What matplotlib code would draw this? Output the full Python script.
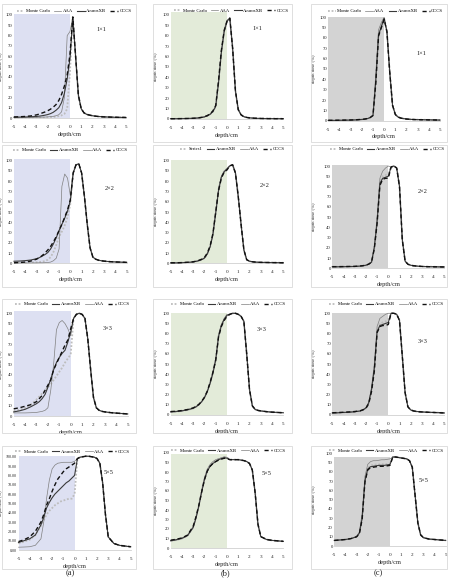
import matplotlib
matplotlib.use('Agg')
import matplotlib.pyplot as plt
from matplotlib.lines import Line2D
from matplotlib.patches import Rectangle
from matplotlib.ticker import FormatStrFormatter

W, H = 451, 578
plt.rcParams['font.family'] = ['Liberation Serif', 'DejaVu Serif']
plt.rcParams['axes.unicode_minus'] = False

# ---------------- data ----------------
XL = [-5, -4.5, -4, -3.5, -3, -2.75, -2.5, -2.25, -2, -1.75, -1.5, -1.25, -1, -0.75, -0.5, -0.25, 0]
XR = [0.25, 0.5, 0.75, 1, 1.25, 1.5, 1.75, 2, 2.25, 2.5, 2.75, 3, 3.5, 4, 4.5, 5]
x_ticks = [-5, -4, -3, -2, -1, 0, 1, 2, 3, 4, 5]
y_ticks = [0, 10, 20, 30, 40, 50, 60, 70, 80, 90, 100]
field_labels = ['1×1', '2×2', '3×3', '5×5']
panel_captions = ['(a)', '(b)', '(c)']

# row 1 : 1x1
a1_mc_l = [0.2, 0.2, 0.3, 0.3, 0.4, 0.4, 0.5, 0.6, 0.7, 0.8, 1.0, 1.3, 1.8, 2.6, 4, 9, 45]
a1_aaa_l = [0.3, 0.3, 0.4, 0.5, 0.6, 0.7, 0.8, 0.9, 1.1, 1.3, 1.6, 2.2, 3.2, 6, 20, 80, 84]
a1_axb_l = [0.8, 0.9, 1.0, 1.2, 1.5, 1.8, 2.2, 2.7, 3.3, 4.2, 5.5, 7.5, 10, 15, 24, 38, 58]
a1_cccs_l = [1.0, 1.2, 1.5, 2.0, 3.0, 3.8, 4.8, 5.8, 7, 8.5, 10.5, 13, 17, 23, 31, 42, 62]
a1_right = [98, 60, 22, 9, 5, 3.5, 2.8, 2.2, 1.8, 1.5, 1.3, 1.1, 0.9, 0.7, 0.6, 0.5]

b1_mc_l = [0.2, 0.2, 0.3, 0.4, 0.6, 0.8, 1.0, 1.4, 2.0, 3.0, 4.5, 7, 12, 35, 65, 85, 94]
b1_aaa_l = [0.2, 0.2, 0.3, 0.4, 0.5, 0.7, 0.9, 1.3, 1.9, 2.8, 4.3, 6.8, 12, 36, 66, 86, 95]
b1_axb_l = [0.3, 0.3, 0.4, 0.5, 0.7, 0.9, 1.1, 1.5, 2.1, 3.1, 4.6, 7.2, 12.5, 35, 64, 84, 94]
b1_cccs_l = [0.3, 0.3, 0.4, 0.5, 0.7, 0.9, 1.2, 1.6, 2.3, 3.3, 5.0, 7.8, 13, 37, 66, 85, 94]
b1_right = [97, 68, 27, 9, 4, 2.2, 1.5, 1.1, 0.9, 0.7, 0.6, 0.5, 0.4, 0.35, 0.3, 0.3]

c1_mc_l = [0.3, 0.3, 0.4, 0.5, 0.6, 0.7, 0.8, 1.0, 1.2, 1.5, 2.0, 3.0, 5, 38, 84, 92, 99]
c1_aaa_l = [0.3, 0.3, 0.4, 0.5, 0.6, 0.7, 0.8, 1.0, 1.2, 1.5, 2.0, 3.0, 5.5, 45, 88, 95, 100]
c1_axb_l = [0.3, 0.3, 0.4, 0.5, 0.6, 0.7, 0.8, 1.0, 1.2, 1.5, 2.0, 3.0, 5, 38, 83, 91, 99]
c1_cccs_l = [0.4, 0.4, 0.5, 0.6, 0.7, 0.8, 0.9, 1.1, 1.3, 1.6, 2.1, 3.1, 5, 36, 82, 90, 98]
c1_right = [86, 47, 15, 6, 3.5, 2.5, 2, 1.6, 1.4, 1.2, 1.1, 1.0, 0.9, 0.8, 0.7, 0.6]

# row 2 : 2x2
a2_mc_l = [0.5, 0.5, 0.6, 0.8, 1.0, 1.2, 1.5, 2.2, 3.5, 6, 11, 18, 26, 31, 37, 45, 58]
a2_aaa_l = [0.3, 0.3, 0.3, 0.4, 0.4, 0.5, 0.5, 0.6, 0.8, 1.2, 2.5, 5, 14, 75, 87, 83, 66]
a2_axb_l = [2, 2.2, 2.6, 3.2, 4.5, 5.5, 7, 8.5, 10.5, 14, 19, 25, 32, 38, 44, 51, 61]
a2_cccs_l = [0.5, 0.8, 1.2, 2.2, 4, 5.5, 7.5, 10, 13, 16.5, 21, 26, 32, 38, 45, 52, 62]
a2_right = [88, 96, 97, 88, 65, 38, 15, 6, 4, 3, 2.5, 2.1, 1.6, 1.3, 1.1, 0.9]

b2_mc_l = [0.3, 0.3, 0.5, 0.8, 1.2, 1.8, 2.5, 3.5, 5, 9, 16, 28, 50, 72, 84, 90, 92]
b2_aaa_l = [0.3, 0.3, 0.5, 0.8, 1.2, 1.7, 2.4, 3.4, 5, 9, 16, 29, 51, 73, 85, 90, 92]
b2_axb_l = [0.4, 0.4, 0.6, 0.9, 1.3, 1.9, 2.6, 3.6, 5.2, 9.2, 16, 28, 49, 71, 84, 89, 92]
b2_cccs_l = [0.5, 0.5, 0.7, 1.0, 1.5, 2.1, 2.9, 4.0, 5.8, 10, 17, 29, 50, 71, 83, 89, 91]
b2_right = [95, 96, 88, 65, 38, 13, 3.5, 2, 1.5, 1.2, 1, 0.9, 0.8, 0.7, 0.6, 0.5]

c2_mc_l = [1.5, 1.5, 1.6, 1.7, 1.8, 2.0, 2.2, 2.5, 3.0, 4.0, 5.5, 19, 44, 84, 90, 91, 93]
c2_aaa_l = [1.4, 1.4, 1.5, 1.6, 1.7, 1.9, 2.1, 2.4, 2.9, 3.9, 6, 22, 50, 88, 95, 98, 100]
c2_axb_l = [1.5, 1.5, 1.6, 1.7, 1.8, 2.0, 2.2, 2.5, 3.0, 4.0, 6, 20, 45, 83, 88, 89, 90]
c2_cccs_l = [1.6, 1.6, 1.7, 1.8, 1.9, 2.1, 2.3, 2.6, 3.1, 4.1, 6, 19, 44, 81, 87, 88, 88]
c2_right = [99, 100, 98, 80, 28, 7, 4, 3, 2.5, 2.2, 2, 1.8, 1.6, 1.5, 1.4, 1.3]

# row 3 : 3x3
a3_mc_l = [5, 6, 8, 11, 16, 19, 22, 25, 28, 31, 35, 39, 43, 47, 52, 56, 60]
a3_aaa_l = [3, 3, 3, 3.2, 3.5, 4, 4.5, 5.5, 8, 25, 50, 84, 91, 93, 90, 85, 78]
a3_axb_l = [4, 5, 6.5, 9, 12, 14, 17, 21, 28, 36, 45, 52, 57, 61, 64, 72, 82]
a3_cccs_l = [7, 8, 9.5, 11, 14, 17, 20, 25, 30, 35, 45, 51, 57, 63, 69, 74, 85]
a3_right = [95, 99, 100, 99, 95, 75, 45, 18, 8, 5.5, 4.5, 4, 3.3, 2.8, 2.4, 2]

b3_mc_l = [3, 3.3, 4, 5, 6.5, 8, 10, 13, 17, 23, 32, 42, 55, 78, 88, 94, 98]
b3_aaa_l = [2.8, 3.1, 3.8, 4.8, 6.3, 7.8, 9.8, 12.8, 16.8, 23, 32, 43, 56, 79, 89, 95, 99]
b3_axb_l = [3.2, 3.5, 4.2, 5.2, 6.7, 8.2, 10.2, 13.2, 17.2, 23, 31, 41, 54, 77, 88, 94, 98]
b3_cccs_l = [3.4, 3.7, 4.4, 5.4, 7, 8.5, 10.5, 13.5, 17.5, 23.5, 32, 42, 54, 77, 87, 93, 97]
b3_right = [99, 100, 100, 99, 97, 92, 60, 25, 9, 5.5, 4.5, 4, 3.3, 2.8, 2.5, 2.2]

c3_mc_l = [2, 2.2, 2.5, 2.8, 3.2, 3.6, 4, 5, 6.5, 11, 24, 44, 83, 90, 91, 92, 94]
c3_aaa_l = [1.9, 2.1, 2.4, 2.7, 3.1, 3.5, 3.9, 4.9, 7, 12, 27, 50, 87, 95, 97, 99, 100]
c3_axb_l = [2, 2.2, 2.5, 2.8, 3.2, 3.6, 4, 5, 7, 12, 25, 45, 82, 88, 89, 90, 91]
c3_cccs_l = [2.2, 2.4, 2.7, 3, 3.4, 3.8, 4.2, 5.2, 6.5, 11, 23, 43, 81, 87, 88, 88, 89]
c3_right = [100, 100, 99, 93, 58, 22, 8, 5, 4, 3.5, 3.2, 3, 2.7, 2.5, 2.3, 2]

# row 4 : 5x5
a4_mc_l = [7, 9, 11, 16, 26, 32, 38, 42, 45, 48, 50, 52, 53, 54, 55, 55, 60]
a4_aaa_l = [3, 3.2, 3.5, 5, 12, 30, 55, 75, 87, 91, 93, 93.5, 94, 94, 94, 94, 95]
a4_axb_l = [8, 10, 12, 16, 27, 35, 45, 51, 56, 60, 63, 66, 69, 72, 74, 77, 80]
a4_cccs_l = [9, 11, 14, 20, 30, 38, 48, 55, 63, 70, 76, 80, 84, 87, 89, 91, 93]
a4_right = [98, 99.5, 100, 100.5, 100.5, 100, 99.5, 98, 93, 72, 38, 14, 7, 5, 4.2, 3.5]

b4_mc_l = [7.5, 8.5, 10, 13, 22, 32, 45, 60, 73, 82, 87, 90, 92, 93.5, 94.5, 95.5, 95]
b4_aaa_l = [7.2, 8.2, 9.7, 12.7, 21, 31, 45, 61, 74, 83, 88, 91, 93, 94, 95, 96, 95.5]
b4_axb_l = [7.8, 8.8, 10.3, 13.3, 22, 32, 44, 59, 72, 81, 86, 89, 91, 93, 94, 95, 94.5]
b4_cccs_l = [8.2, 9.2, 10.6, 13.6, 23, 33, 45, 59, 72, 81, 86, 89, 91, 92.5, 93.5, 94.5, 94]
b4_right = [93, 93, 93, 93, 92.5, 92, 91, 89, 82, 58, 25, 12, 9, 8, 7.5, 7]

c4_mc_l = [6, 6.5, 7, 8, 10, 14, 31, 71, 84, 87, 87.5, 88, 88, 88.5, 88, 88.5, 89]
c4_aaa_l = [6, 6.5, 7, 8, 10, 15, 35, 75, 88, 91, 92, 92, 92.5, 93, 93, 93.5, 94]
c4_axb_l = [6, 6.5, 7, 8, 10, 14, 30, 70, 83, 85.5, 86, 86.5, 87, 87, 87, 87.5, 88]
c4_cccs_l = [6, 6.5, 7, 8, 10, 13, 29, 69, 82, 84.5, 85, 85.5, 86, 86, 86, 86.5, 87]
c4_right = [96, 96, 95.5, 95, 94.5, 94, 92, 85, 55, 25, 12, 9, 7.5, 7, 6.5, 6]

# ---------------- styling ----------------
STY = {
    'mc': dict(color='#bdbdbd', lw=1.3, ls=(0, (1, 1))),
    'aaa': dict(color='#7f7f7f', lw=0.5, ls='-'),
    'axb': dict(color='#3a3a3a', lw=0.8, ls='-'),
    'cccs': dict(color='#111111', lw=1.0, ls=(0, (3, 2))),
}
NAMES = {'mc': 'Monte Carlo', 'aaa': 'AAA', 'axb': 'AcurosXB', 'cccs': 'CCCS'}
SHADE = ['#dde0f2', '#e3ebd9', '#d3d3d3']
ORDER1 = ['mc', 'aaa', 'axb', 'cccs']
ORDER2 = ['mc', 'axb', 'aaa', 'cccs']

DATA = [
    [(a1_mc_l, a1_aaa_l, a1_axb_l, a1_cccs_l, a1_right),
     (b1_mc_l, b1_aaa_l, b1_axb_l, b1_cccs_l, b1_right),
     (c1_mc_l, c1_aaa_l, c1_axb_l, c1_cccs_l, c1_right)],
    [(a2_mc_l, a2_aaa_l, a2_axb_l, a2_cccs_l, a2_right),
     (b2_mc_l, b2_aaa_l, b2_axb_l, b2_cccs_l, b2_right),
     (c2_mc_l, c2_aaa_l, c2_axb_l, c2_cccs_l, c2_right)],
    [(a3_mc_l, a3_aaa_l, a3_axb_l, a3_cccs_l, a3_right),
     (b3_mc_l, b3_aaa_l, b3_axb_l, b3_cccs_l, b3_right),
     (c3_mc_l, c3_aaa_l, c3_axb_l, c3_cccs_l, c3_right)],
    [(a4_mc_l, a4_aaa_l, a4_axb_l, a4_cccs_l, a4_right),
     (b4_mc_l, b4_aaa_l, b4_axb_l, b4_cccs_l, b4_right),
     (c4_mc_l, c4_aaa_l, c4_axb_l, c4_cccs_l, c4_right)],
]

# pixel geometry: (x=-5 px, x=5 px, y=0 px, y=100 px)
GEOM = [
    [(14, 126, 118, 15), (170.7, 283.3, 119, 15), (328.3, 440, 120.7, 17.3)],
    [(14, 126.7, 263.3, 160.7), (170.7, 283.3, 263.3, 160.7), (332.3, 444.3, 268.3, 166)],
    [(13.7, 127.7, 416, 313.3), (170.7, 283.3, 415, 313.3), (332.3, 444.3, 415, 313.3)],
    [(18.5, 130.7, 550, 456.7), (170.7, 283.3, 548, 453), (334.3, 445.7, 546, 453.3)],
]
YLAB_X = [3.0, 158.0, 316.0]
YLAB_X_R4C1 = 3.0
FRAME_X = [(1.5, 135.5), (152.5, 291.5), (311, 447)]
FRAME_Y = [(4.5, 142.5), (145.5, 287), (298.5, 433), (445.5, 569)]
LEG = [
    [(74, 11), (231, 10.7), (385.7, 11)],
    [(70, 150), (232, 149), (387, 149.3)],
    [(72, 304.3), (228, 304), (386, 304)],
    [(72, 451.7), (228, 450.7), (386, 450.7)],
]
LABPOS = [
    [(2.83, 86), (2.68, 87), (3.36, 65)],
    [(3.5, 73), (3.37, 76), (3.1, 75)],
    [(3.2, 85), (3.1, 84), (3.1, 72)],
    [(3.0, 83), (3.5, 78), (3.0, 71)],
]
SHADE_TOP = [
    [100.5, 102.5, 100],
    [102, 101, 100.5],
    [102, 100.5, 100.5],
    [101, 99, 96.5],
]
YMAX = 105

fig = plt.figure(figsize=(W / 100, H / 100), dpi=100)

# panel frames
for r in range(4):
    for c in range(3):
        x0, x1 = FRAME_X[c]
        y0, y1 = FRAME_Y[r]
        fig.patches.append(Rectangle((x0 / W, 1 - y1 / H), (x1 - x0) / W, (y1 - y0) / H,
                                     transform=fig.transFigure, fill=False,
                                     edgecolor='#d9d9d9', lw=0.6))

X = XL + XR
for r in range(4):
    for c in range(3):
        xl, xr, py0, py100 = GEOM[r][c]
        hgt = (py0 - py100) * YMAX / 100
        ax = fig.add_axes([xl / W, 1 - py0 / H, (xr - xl) / W, hgt / H])
        ax.set_xlim(-5, 5)
        ax.set_ylim(0, YMAX)
        ax.fill_between([-5, 0], 0, SHADE_TOP[r][c], color=SHADE[c], lw=0, zorder=0)
        mc_l, aaa_l, axb_l, cccs_l, right = DATA[r][c]
        series = {'mc': mc_l + right, 'aaa': aaa_l + right,
                  'axb': axb_l + right, 'cccs': cccs_l + right}
        for key in ['mc', 'aaa', 'axb', 'cccs']:
            s = STY[key]
            ax.plot(X, series[key], color=s['color'], lw=s['lw'], ls=s['ls'],
                    zorder=3 if key != 'mc' else 2, clip_on=False)
        for sp in ['top', 'right', 'left']:
            ax.spines[sp].set_visible(False)
        ax.spines['bottom'].set_color('#d0d0d0')
        ax.spines['bottom'].set_linewidth(0.6)
        ax.set_xticks(x_ticks)
        ax.set_yticks(y_ticks)
        ysize = 3.4
        ylsize = 3.4
        if r == 3 and c == 0:
            ax.yaxis.set_major_formatter(FormatStrFormatter('%.2f'))
            ysize = 3.0
            ylsize = 3.1
        ax.tick_params(axis='x', length=0, labelsize=3.7, pad=5, colors='#222222')
        ax.tick_params(axis='y', length=0, labelsize=ysize, pad=1.0, colors='#222222')
        ax.set_xlabel('depth/cm', fontsize=4.6, labelpad=2.0, color='#222222')
        ax.set_ylabel('depth dose (%)', fontsize=ylsize, color='#222222')
        ylx = YLAB_X_R4C1 if (r == 3 and c == 0) else YLAB_X[c]
        ax.yaxis.set_label_coords((ylx - xl) / (xr - xl), 50 / YMAX)
        lx, ly = LABPOS[r][c]
        ax.text(lx, ly, field_labels[r], fontsize=4.6, ha='center', va='center', color='#222222')

        order = ORDER1 if r == 0 else ORDER2
        handles = []
        labels = []
        for key in order:
            s = STY[key]
            handles.append(Line2D([], [], color=s['color'], lw=s['lw'], ls=s['ls']))
            lab = NAMES[key]
            if r == 1 and c == 1 and key == 'mc':
                lab = 'Series1'
            labels.append(lab)
        cx, cy = LEG[r][c]
        ax.legend(handles, labels, loc='center', bbox_to_anchor=(cx / W, 1 - cy / H),
                  bbox_transform=fig.transFigure, ncol=4, frameon=False,
                  fontsize=3.4, handlelength=1.6, handletextpad=0.3,
                  columnspacing=0.9, borderpad=0, borderaxespad=0)

for c, cap in enumerate(panel_captions):
    cx = [70, 225, 378][c]
    fig.text(cx / W, 1 - 573.5 / H, cap, fontsize=6, ha='center', va='center', color='#222222')

fig.savefig('out.png', dpi=100)
